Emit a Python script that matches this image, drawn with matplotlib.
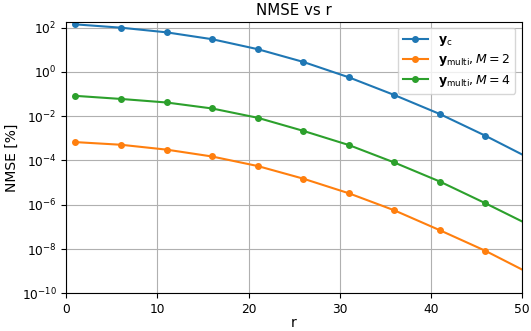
import numpy as np
import matplotlib.pyplot as plt

# r values (last point lies just beyond the x limit)
r = [1, 6, 11, 16, 21, 26, 31, 36, 41, 46, 51]

# log10 of NMSE [%]
log_yc = [2.15, 2.0, 1.79, 1.48, 1.03, 0.455, -0.24, -1.04, -1.9, -2.88, -3.93]
log_m2 = [-3.17, -3.29, -3.51, -3.82, -4.25, -4.82, -5.48, -6.25, -7.15, -8.08, -9.13]
log_m4 = [-1.08, -1.22, -1.38, -1.65, -2.07, -2.66, -3.30, -4.09, -4.95, -5.93, -6.95]

nmse_yc = 10 ** np.array(log_yc)
nmse_m2 = 10 ** np.array(log_m2)
nmse_m4 = 10 ** np.array(log_m4)

plt.rcParams["font.size"] = 9

fig, ax = plt.subplots(figsize=(5.31, 3.31), dpi=100)
fig.subplots_adjust(left=0.125, right=0.9825, top=0.9344, bottom=0.114)

ax.semilogy(r, nmse_yc, "o-", ms=4, label=r"$\mathbf{y}_\mathrm{c}$")
ax.semilogy(r, nmse_m2, "o-", ms=4, label=r"$\mathbf{y}_\mathrm{multi}, M=2$")
ax.semilogy(r, nmse_m4, "o-", ms=4, label=r"$\mathbf{y}_\mathrm{multi}, M=4$")

ax.set_xlim(0, 50)
ax.set_ylim(1e-10, 10 ** 2.27)
ax.tick_params(labelsize=8.8)
ax.set_title("NMSE vs r", fontsize=10.8, pad=4.5)
ax.set_xlabel("r", fontsize=10, labelpad=0)
ax.set_ylabel("NMSE [%]", fontsize=10, labelpad=2)
ax.grid(True)
ax.legend(loc="upper right", labelspacing=0.35)

plt.savefig("out.png", dpi=100)
